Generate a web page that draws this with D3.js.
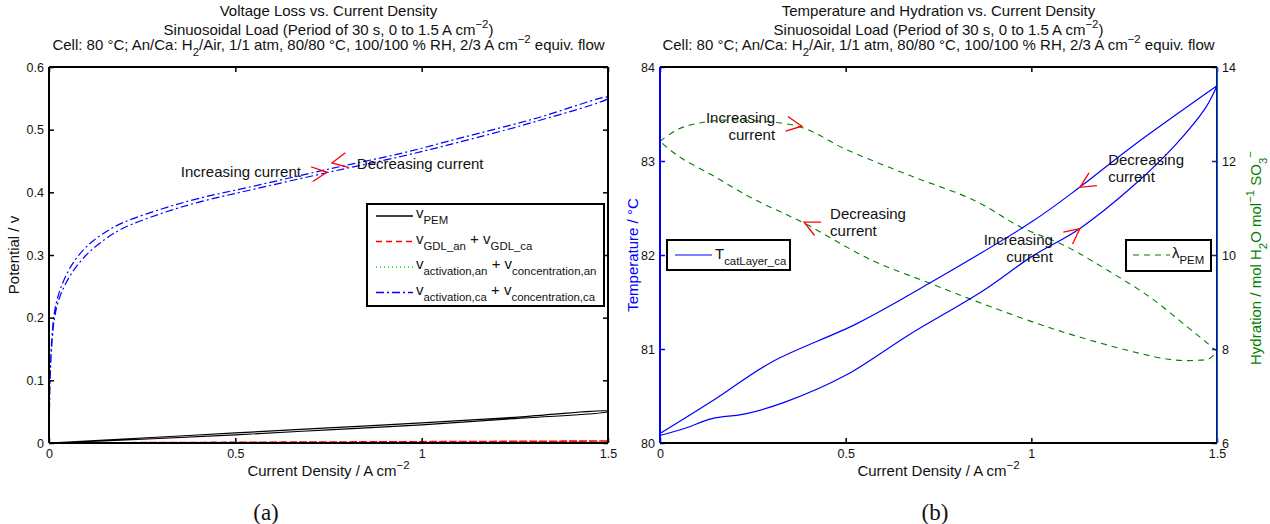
<!DOCTYPE html>
<html>
<head>
<meta charset="utf-8">
<script src="https://cdn.jsdelivr.net/npm/d3@7"></script>
<style>
    body { margin: 0; background: #fff; }
    svg text { font-family: "Liberation Sans", Arial, Helvetica, sans-serif; fill: #111; }
</style>
</head>
<body>
<div id="chart"></div>
<script>
// ---------- panel (a): voltage losses ----------
// each loop = increasing branch (0 -> 1.5) followed by decreasing branch (1.5 -> 0)
let caIncI = [0, 0.003, 0.008, 0.015, 0.03, 0.06, 0.1, 0.15, 0.2, 0.3, 0.4, 0.55, 0.75, 0.95, 1.1, 1.3, 1.5];
let caIncV = [0, 0.10, 0.16, 0.20, 0.235, 0.27, 0.30, 0.325, 0.343, 0.366, 0.384, 0.405, 0.432, 0.458, 0.48, 0.512, 0.55];
let caDecI = [1.5, 1.3, 1.1, 0.95, 0.75, 0.55, 0.4, 0.3, 0.2, 0.15, 0.1, 0.06, 0.03, 0.015, 0.008, 0.003, 0];
let caDecV = [0.552, 0.517, 0.486, 0.463, 0.437, 0.41, 0.39, 0.373, 0.352, 0.336, 0.313, 0.283, 0.245, 0.21, 0.17, 0.11, 0];

let pemIncI = [0, 0.25, 0.5, 0.75, 1, 1.25, 1.5];
let pemIncV = [0, 0.006, 0.013, 0.021, 0.029, 0.039, 0.05];
let pemDecI = [1.5, 1.25, 1, 0.75, 0.5, 0.25, 0];
let pemDecV = [0.051, 0.041, 0.032, 0.024, 0.016, 0.008, 0];

let gdlI = [0, 0.5, 1, 1.5, 1, 0.5, 0];
let gdlV = [0, 0.001, 0.002, 0.0032, 0.0021, 0.0011, 0];

let anI = [0, 0.5, 1, 1.5, 1, 0.5, 0];
let anV = [0, 0.0005, 0.001, 0.0015, 0.001, 0.0005, 0];

let xTicks = [0, 0.5, 1, 1.5];
let vTicks = [0, 0.1, 0.2, 0.3, 0.4, 0.5, 0.6];

// ---------- panel (b): temperature and hydration ----------
let tIncI = [0, 0.07, 0.14, 0.23, 0.34, 0.5, 0.67, 0.87, 1.0, 1.13, 1.27, 1.39, 1.47, 1.5];
let tIncT = [80.08, 80.16, 80.26, 80.31, 80.44, 80.72, 81.15, 81.62, 81.98, 82.28, 82.72, 83.18, 83.57, 83.80];
let tDecI = [1.5, 1.27, 1.13, 1.0, 0.73, 0.53, 0.30, 0.15, 0];
let tDecT = [83.80, 83.15, 82.72, 82.35, 81.71, 81.27, 80.86, 80.47, 80.10];

let lamIncI = [0, 0.05, 0.1, 0.17, 0.25, 0.38, 0.5, 0.67, 0.85, 0.97, 1.09, 1.2, 1.32, 1.42, 1.47, 1.5];
let lamIncL = [12.42, 12.68, 12.8, 12.87, 12.86, 12.72, 12.25, 11.70, 11.15, 10.6, 10.2, 9.7, 9.1, 8.47, 8.15, 7.95];
let lamDecI = [1.5, 1.48, 1.45, 1.38, 1.27, 1.07, 0.87, 0.73, 0.57, 0.39, 0.25, 0.14, 0.05, 0];
let lamDecL = [7.95, 7.8, 7.76, 7.77, 7.95, 8.40, 8.96, 9.39, 9.89, 10.67, 11.2, 11.7, 12.1, 12.42];

let tTicks = [80, 81, 82, 83, 84];
let lamTicks = [6, 8, 10, 12, 14];

// ---------- layout ----------
const width = 1270, height = 524;
const plotTop = 67, plotBottom = 443;
const panelA = {left: 49, right: 608};
const panelB = {left: 660, right: 1217};
const blue = "#0000ff", green = "#008000", red = "#ff0000";
const fontSize = 15;

let svg = d3.select("#chart").append("svg")
    .attr("width", width)
    .attr("height", height);

let xA = d3.scaleLinear().domain([0, 1.5]).range([panelA.left, panelA.right]);
let yA = d3.scaleLinear().domain([0, 0.6]).range([plotBottom, plotTop]);
let xB = d3.scaleLinear().domain([0, 1.5]).range([panelB.left, panelB.right]);
let yT = d3.scaleLinear().domain([80, 84]).range([plotBottom, plotTop]);
let yL = d3.scaleLinear().domain([6, 14]).range([plotBottom, plotTop]);

// join two branches into one list of points
let loop = (i1, v1, i2, v2) => i1.map((d, k) => [d, v1[k]]).concat(i2.map((d, k) => [d, v2[k]]));
let pairs = (is, vs) => is.map((d, k) => [d, vs[k]]);

let lineFor = (x, y) => d3.line()
    .x(d => x(d[0]))
    .y(d => y(d[1]))
    .curve(d3.curveCatmullRom.alpha(0.5));

// text with sub/superscripts: parts are strings or [string, "sub"|"sup"]
function richText(sel, parts, size) {
    let shift = 0;
    parts.forEach(p => {
        let str = Array.isArray(p) ? p[0] : p;
        let mode = Array.isArray(p) ? p[1] : "";
        let target = mode === "sub" ? 0.42 * size : mode === "sup" ? -0.45 * size : 0;
        sel.append("tspan")
            .attr("dy", target - shift)
            .attr("font-size", mode ? size * 0.76 : size)
            .text(str);
        shift = target;
    });
    return sel;
}

// inward MATLAB-like ticks on all sides
function drawAxes(x, yLeft, yRight, opts) {
    let g = svg.append("g");
    g.append("g")
        .attr("transform", "translate(0," + plotBottom + ")")
        .call(d3.axisBottom(x).tickValues(xTicks).tickSize(-5).tickPadding(6).tickFormat(d3.format("")));
    g.append("g")
        .attr("transform", "translate(0," + plotTop + ")")
        .call(d3.axisTop(x).tickValues(xTicks).tickSize(-5).tickFormat(""));
    let left = g.append("g")
        .attr("transform", "translate(" + x.range()[0] + ",0)")
        .call(d3.axisLeft(yLeft).tickValues(opts.leftTicks).tickSize(-5).tickPadding(5).tickFormat(d3.format("")));
    let right = g.append("g")
        .attr("transform", "translate(" + x.range()[1] + ",0)")
        .call(d3.axisRight(yRight).tickValues(opts.rightTicks).tickSize(-5).tickPadding(5)
            .tickFormat(opts.rightLabels ? d3.format("") : ""));

    g.selectAll(".domain").remove();
    g.selectAll(".tick line").attr("stroke", "#000").attr("stroke-width", 1.5);
    g.selectAll(".tick text").attr("font-size", 12.5).attr("fill", "#000")
        .style("font-family", "'Liberation Sans', Arial, sans-serif");
    left.selectAll(".tick line").attr("stroke", opts.leftColor);
    left.selectAll(".tick text").attr("fill", opts.leftColor);
    right.selectAll(".tick line").attr("stroke", opts.rightTickColor);
    right.selectAll(".tick text").attr("fill", opts.rightColor);

    // box
    let [x0, x1] = x.range();
    g.append("line").attr("x1", x0).attr("x2", x1).attr("y1", plotTop).attr("y2", plotTop)
        .attr("stroke", "#000").attr("stroke-width", 2);
    g.append("line").attr("x1", x0).attr("x2", x1).attr("y1", plotBottom).attr("y2", plotBottom)
        .attr("stroke", "#000").attr("stroke-width", 2);
    g.append("line").attr("x1", x0).attr("x2", x0).attr("y1", plotTop).attr("y2", plotBottom)
        .attr("stroke", opts.leftColor).attr("stroke-width", 2);
    g.append("line").attr("x1", x1).attr("x2", x1).attr("y1", plotTop).attr("y2", plotBottom)
        .attr("stroke", opts.rightSpine).attr("stroke-width", 2);
    if (opts.rightSpine2) {
        g.append("line").attr("x1", x1 + 0.5).attr("x2", x1 + 0.5).attr("y1", plotTop).attr("y2", plotBottom)
            .attr("stroke", opts.rightSpine2).attr("stroke-width", 1);
    }
}

function drawArrow(x, y, d) {
    let len = 17, spread = 26 * Math.PI / 180;
    let a = d.angle * Math.PI / 180;
    let tx = x(d.i), ty = y(d.v);
    let p1 = [tx - len * Math.cos(a - spread), ty - len * Math.sin(a - spread)];
    let p2 = [tx - len * Math.cos(a + spread), ty - len * Math.sin(a + spread)];
    svg.append("path")
        .attr("d", "M" + p1 + "L" + [tx, ty] + "L" + p2)
        .attr("fill", "none")
        .attr("stroke", red)
        .attr("stroke-width", 1.3);
}

function drawTitles(cx, first) {
    svg.append("text").attr("x", cx).attr("y", 16).attr("text-anchor", "middle")
        .attr("font-size", fontSize).text(first);
    richText(svg.append("text").attr("x", cx).attr("y", 35).attr("text-anchor", "middle"),
        ["Sinuosoidal Load (Period of 30 s, 0 to 1.5 A cm", ["\u22122", "sup"], ")"], fontSize);
    richText(svg.append("text").attr("x", cx).attr("y", 50).attr("text-anchor", "middle"),
        ["Cell: 80 \u00b0C; An/Ca: H", ["2", "sub"], "/Air, 1/1 atm, 80/80 \u00b0C, 100/100 % RH, 2/3 A cm",
            ["\u22122", "sup"], " equiv. flow"], fontSize);
}

function xLabel(cx) {
    richText(svg.append("text").attr("x", cx).attr("y", 476).attr("text-anchor", "middle"),
        ["Current Density / A cm", ["\u22122", "sup"]], fontSize);
}

// ================= panel (a) =================
drawTitles((panelA.left + panelA.right) / 2, "Voltage Loss vs. Current Density");

let lineA = lineFor(xA, yA);
let seriesA = [
    {pts: loop(pemIncI, pemIncV, pemDecI, pemDecV), color: "#000", dash: null},
    {pts: pairs(anI, anV), color: "#00c000", dash: "1,3"},
    {pts: pairs(gdlI, gdlV), color: red, dash: "6,4"},
    {pts: loop(caIncI, caIncV, caDecI, caDecV), color: blue, dash: "8,3,2,3"}
];
svg.append("g").selectAll("path")
    .data(seriesA)
    .enter()
    .append("path")
    .attr("d", d => lineA(d.pts))
    .attr("fill", "none")
    .attr("stroke", d => d.color)
    .attr("stroke-width", d => d.color === red ? 1.6 : 1.2)
    .attr("stroke-dasharray", d => d.dash);

drawAxes(xA, yA, yA, {leftTicks: vTicks, rightTicks: vTicks, rightLabels: false,
    leftColor: "#000", rightColor: "#000", rightTickColor: "#000", rightSpine: "#000"});

xLabel((panelA.left + panelA.right) / 2);
svg.append("text")
    .attr("transform", "translate(19,255) rotate(-90)")
    .attr("text-anchor", "middle")
    .attr("font-size", fontSize)
    .text("Potential / v");

// annotations
svg.append("text").attr("x", xA(0.676)).attr("y", yA(0.424)).attr("text-anchor", "end")
    .attr("font-size", fontSize).text("Increasing current");
svg.append("text").attr("x", xA(0.826)).attr("y", yA(0.437))
    .attr("font-size", fontSize).text("Decreasing current");
drawArrow(xA, yA, {i: 0.746, v: 0.432, angle: -7});
drawArrow(xA, yA, {i: 0.759, v: 0.447, angle: 169});

// legend (a)
let legA = svg.append("g").attr("transform", "translate(367,204)");
legA.append("rect").attr("width", 237).attr("height", 102)
    .attr("fill", "#fff").attr("stroke", "#000").attr("stroke-width", 2);
let legEntries = [
    {color: "#000", dash: null, parts: ["v", ["PEM", "sub"]]},
    {color: red, dash: "6,4", parts: ["v", ["GDL_an", "sub"], " + v", ["GDL_ca", "sub"]]},
    {color: "#00dd00", dash: "1,3", parts: ["v", ["activation,an", "sub"], " + v", ["concentration,an", "sub"]]},
    {color: blue, dash: "8,3,2,3", parts: ["v", ["activation,ca", "sub"], " + v", ["concentration,ca", "sub"]]}
];
legEntries.forEach((e, k) => {
    let y = 12 + k * 25.5;
    legA.append("line").attr("x1", 9).attr("x2", 46).attr("y1", y).attr("y2", y)
        .attr("stroke", e.color).attr("stroke-width", 1.3).attr("stroke-dasharray", e.dash);
    richText(legA.append("text").attr("x", 49).attr("y", y + 2), e.parts, fontSize);
});

// ================= panel (b) =================
drawTitles((panelB.left + panelB.right) / 2, "Temperature and Hydration vs. Current Density");

svg.append("path")
    .attr("d", lineFor(xB, yL)(loop(lamIncI, lamIncL, lamDecI, lamDecL)))
    .attr("fill", "none")
    .attr("stroke", green)
    .attr("stroke-width", 1.1)
    .attr("stroke-dasharray", "6,5");
svg.append("path")
    .attr("d", lineFor(xB, yT)(loop(tIncI, tIncT, tDecI, tDecT)))
    .attr("fill", "none")
    .attr("stroke", blue)
    .attr("stroke-width", 1.2);

drawAxes(xB, yT, yL, {leftTicks: tTicks, rightTicks: lamTicks, rightLabels: true,
    leftColor: blue, rightColor: green, rightTickColor: "#0b2f6b", rightSpine: blue, rightSpine2: "#1f6b3a"});

xLabel((panelB.left + panelB.right) / 2);
svg.append("text")
    .attr("transform", "translate(638,255) rotate(-90)")
    .attr("text-anchor", "middle")
    .attr("font-size", fontSize)
    .style("fill", blue)
    .text("Temperature / \u00b0C");
richText(svg.append("text")
    .attr("transform", "translate(1261,258) rotate(-90)")
    .attr("text-anchor", "middle")
    .style("fill", green),
    ["Hydration / mol H", ["2", "sub"], "O mol", ["\u22121", "sup"], " SO", ["3", "sub"], ["\u2212", "sup"]], fontSize);
svg.selectAll("text tspan").filter(function () { return this.parentNode.style.fill; })
    .style("fill", function () { return this.parentNode.style.fill; });

// annotations (b), anchored in data units of the axis they point at
let notesB = [
    {i: 0.31, y: yL(12.7) - 5, anchor: "end", lines: ["Increasing", "current"]},
    {i: 0.458, y: yT(82.38), anchor: "start", lines: ["Decreasing", "current"]},
    {i: 1.207, y: yT(82.96), anchor: "start", lines: ["Decreasing", "current"]},
    {i: 1.058, y: yT(82.11), anchor: "end", lines: ["Increasing", "current"]}
];
notesB.forEach(n => {
    let t = svg.append("text").attr("text-anchor", n.anchor).attr("font-size", fontSize);
    n.lines.forEach((s, k) => {
        t.append("tspan").attr("x", xB(n.i)).attr("y", n.y + k * 17).text(s);
    });
});
drawArrow(xB, yL, {i: 0.382, v: 12.74, angle: 9});
drawArrow(xB, yL, {i: 0.388, v: 10.70, angle: -154});
drawArrow(xB, yT, {i: 1.131, v: 82.72, angle: 148});
drawArrow(xB, yT, {i: 1.131, v: 82.28, angle: -38});

// legends (b)
let legT = svg.append("g").attr("transform", "translate(667,240)");
legT.append("rect").attr("width", 123).attr("height", 30)
    .attr("fill", "#fff").attr("stroke", "#000").attr("stroke-width", 2);
legT.append("line").attr("x1", 8).attr("x2", 45).attr("y1", 15).attr("y2", 15)
    .attr("stroke", blue).attr("stroke-width", 1.2);
richText(legT.append("text").attr("x", 48).attr("y", 19), ["T", ["catLayer_ca", "sub"]], 15);

let legL = svg.append("g").attr("transform", "translate(1126,240)");
legL.append("rect").attr("width", 85).attr("height", 31)
    .attr("fill", "#fff").attr("stroke", "#000").attr("stroke-width", 2);
legL.append("line").attr("x1", 7).attr("x2", 44).attr("y1", 15).attr("y2", 15)
    .attr("stroke", green).attr("stroke-width", 1.1).attr("stroke-dasharray", "6,5");
richText(legL.append("text").attr("x", 46).attr("y", 18), ["\u03bb", ["PEM", "sub"]], fontSize);

// sub-figure captions
svg.append("text").attr("x", 266).attr("y", 520).attr("text-anchor", "middle")
    .style("font-family", "'Liberation Serif', 'DejaVu Serif', serif").attr("font-size", 23).text("(a)");
svg.append("text").attr("x", 935).attr("y", 520).attr("text-anchor", "middle")
    .style("font-family", "'Liberation Serif', 'DejaVu Serif', serif").attr("font-size", 23).text("(b)");
</script>
</body>
</html>
